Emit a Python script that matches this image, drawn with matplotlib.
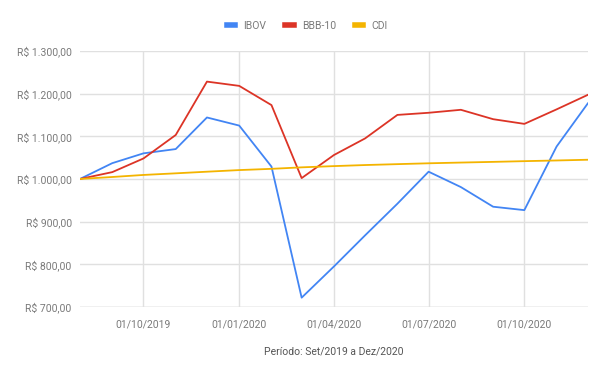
import pandas as pd
import matplotlib.pyplot as plt
import matplotlib.dates as mdates
from matplotlib.ticker import FuncFormatter

plt.rcParams['font.family'] = ['Roboto', 'DejaVu Sans']

# monthly data, Aug/2019 .. Dec/2020
dates = pd.date_range('2019-08-01', '2020-12-01', freq='MS')
ibov = [1000, 1037, 1060, 1070, 1144, 1125, 1029, 722, 795, 868, 942, 1017,
        981, 935, 927, 1076, 1177]
bbb10 = [1000, 1016, 1048, 1103, 1228, 1218, 1173, 1002, 1056, 1095, 1150,
         1155, 1162, 1140, 1129, 1163, 1197]
cdi = [1000, 1004.6, 1009.4, 1013.2, 1017.0, 1020.8, 1023.7, 1027.2, 1030.1,
       1032.6, 1034.7, 1036.7, 1038.4, 1040.0, 1041.7, 1043.3, 1045.0]

tick_dates = pd.to_datetime(['2019-10-01', '2020-01-01', '2020-04-01',
                             '2020-07-01', '2020-10-01'])
y_ticks = [700, 800, 900, 1000, 1100, 1200, 1300]

def reais(v, pos=None):
    s = '{:,.2f}'.format(v)
    s = s.replace(',', 'X').replace('.', ',').replace('X', '.')
    return 'R$ ' + s

fig = plt.figure(figsize=(6.06, 3.74), dpi=100)
ax = fig.add_axes([0.132, 0.179, 0.838, 0.685])

ax.plot(dates, ibov, color='#4285F4', lw=1.3, label='IBOV', zorder=3)
ax.plot(dates, bbb10, color='#DC3426', lw=1.3, label='BBB-10', zorder=3)
ax.plot(dates, cdi, color='#F4B400', lw=1.3, label='CDI', zorder=3)

ax.set_xlim(dates[0], dates[-1])
ax.set_ylim(700, 1300)
ax.set_yticks(y_ticks)
ax.yaxis.set_major_formatter(FuncFormatter(reais))
ax.set_xticks(tick_dates)
ax.xaxis.set_major_formatter(mdates.DateFormatter('%d/%m/%Y'))

ax.grid(True, color='#e0e0e0', lw=1, zorder=0)
for s in ax.spines.values():
    s.set_visible(False)
ax.axhline(700, color='#cccccc', lw=1, zorder=1)
ax.tick_params(length=0, labelsize=7.5, colors='#7a7a7a', pad=6)
ax.tick_params(axis='x', pad=9)

ax.set_xlabel('Período: Set/2019 a Dez/2020', fontsize=7.5, color='#555555',
              labelpad=12)

fig.legend(loc='upper center', bbox_to_anchor=(0.507, 0.97), ncol=3,
           frameon=False, fontsize=7.5, handlelength=0.8, handletextpad=0.8,
           columnspacing=1.8, labelcolor='#7a7a7a')
for h in fig.legends[0].get_lines():
    h.set_linewidth(4)

fig.savefig('out.png', dpi=100)
